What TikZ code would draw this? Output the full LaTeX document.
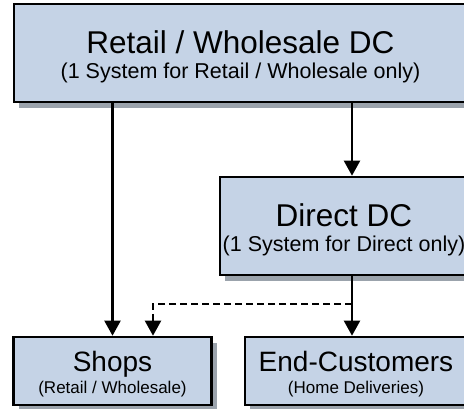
\documentclass[tikz,border=0pt]{standalone}
\usepackage{fontspec}
\setmainfont{Liberation Sans}
\usetikzlibrary{positioning, shadows}
\usetikzlibrary{arrows.meta}
\tikzset{>={Triangle[width=16pt,length=15pt]}}
\definecolor{boxblue}{RGB}{197,211,230}
\definecolor{shadowgray}{RGB}{155,163,172}

\begin{document}
\begin{tikzpicture}[x=1pt,y=1pt]
% Define styles
\tikzstyle{dcbox} = [draw, line width=2.6pt, fill=boxblue, inner sep=0pt, drop shadow={shadow xshift=5pt, shadow yshift=-6pt, fill=shadowgray, opacity=1}]
\tikzstyle{bigtext} = [align=center, inner sep=0pt, font=\fontsize{31.5}{25.5}\selectfont]
\tikzstyle{smalltext} = [align=center, inner sep=0pt, font=\fontsize{28}{22.6}\selectfont]
\tikzstyle{flow} = [line width=2.2pt, ->]
\useasboundingbox (0,0) rectangle (464,-409);
% Define nodes
\node[dcbox, minimum width=453, minimum height=98] (wsdc) at (240.5,-53) {};
\node[dcbox, minimum width=248, minimum height=98] (direct) at (344,-226) {};
\node[dcbox, minimum width=198, minimum height=68] (shops) at (112.5,-371) {};
\node[dcbox, minimum width=222, minimum height=68] (endc) at (356,-371) {};
% Texts
\node[bigtext] (wsdcText) at ([yshift=-3.6]wsdc.center) {Retail / Wholesale DC\\{\fontsize{21.5}{25.5}\selectfont (1 System for Retail / Wholesale only)}};
\node[bigtext] (directText) at ([yshift=-3.6]direct.center) {Direct DC\\{\fontsize{21.5}{25.5}\selectfont (1 System for Direct only)}};
\node[smalltext] (shopsText) at ([yshift=-3]shops.center) {Shops\\{\fontsize{17}{22.6}\selectfont (Retail / Wholesale)}};
\node[smalltext] (endcText) at ([yshift=-3]endc.center) {End-Customers\\{\fontsize{17}{22.6}\selectfont (Home Deliveries)}};
% Connect the nodes
\coordinate (col) at (352,0);
\coordinate (split) at (352,-304);
\coordinate (dashcol) at (153,0);
\draw[flow] (wsdc.south -| shops.north) -- (shops.north);
\draw[flow] (wsdc.south -| col) -- (direct.north -| col);
\draw[flow] (direct.south -| col) -- (endc.north -| col);
\draw[flow, dash pattern=on 7pt off 4pt] (split) -| (shops.north -| dashcol);
\end{tikzpicture}
\end{document}
